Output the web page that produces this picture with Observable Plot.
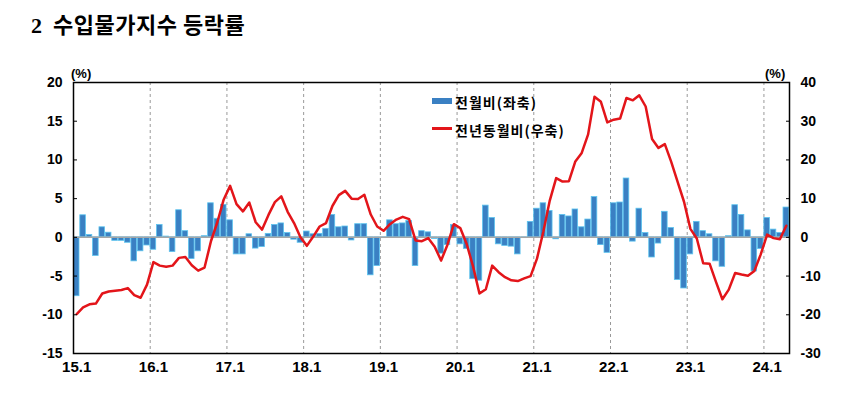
<!DOCTYPE html>
<html><head><meta charset="utf-8">
<script src="https://cdn.jsdelivr.net/npm/d3@7"></script>
<script src="https://cdn.jsdelivr.net/npm/@observablehq/plot@0.6"></script>
<style>
body{margin:0;background:#fff;}
#wrap{position:relative;width:852px;height:395px;overflow:hidden;}
.t{position:absolute;white-space:pre;color:#000;line-height:1;}
#chart{position:absolute;left:0;top:0;}
</style></head><body>
<div id="wrap">
<div id="chart"></div>
<div class="t" style="left:31px;top:12px;font-size:22px;font-weight:bold;font-family:'Liberation Serif','Noto Sans CJK KR';">2  <span style="font-family:'Noto Sans CJK KR';letter-spacing:0.5px">수입물가지수 등락률</span></div>
<div class="t" style="left:71px;top:66px;font:bold 13px 'Liberation Sans',Arial,sans-serif;">(%)</div>
<div class="t" style="left:765px;top:66px;font:bold 13px 'Liberation Sans',Arial,sans-serif;">(%)</div>
<div style="position:absolute;left:432px;top:98px;width:20px;height:6px;background:#3a80c3;"></div>
<div class="t" style="left:455px;top:92px;font:bold 14px 'Noto Sans CJK KR';letter-spacing:1px;">전월비(좌축)</div>
<div style="position:absolute;left:432px;top:127px;width:20px;height:2.5px;background:#e3151a;"></div>
<div class="t" style="left:455px;top:120px;font:bold 14px 'Noto Sans CJK KR';letter-spacing:1px;">전년동월비(우축)</div>
</div>
<script>
// 2015.1 ~ 2024.4, monthly
const mom = [
 -7.6, 2.85, 0.3, -2.4, 1.3, 0.6, -0.45, -0.45, -0.7, -3.1, -1.8, -1.05,
 -1.6, 1.6, 0.1, -1.9, 3.5, 0.8, -2.8, -1.8, 0.15, 4.4, 2.4, 4.2,
 2.2, -2.2, -2.2, 0.4, -1.45, -1.25, 0.45, 1.6, 1.8, 0.55, -0.3, -0.7,
 0.75, 0.4, 0.45, 1.1, 2.9, 1.3, 1.4, -0.4, 1.7, 1.7, -4.9, -3.7,
 -0.1, 2.2, 1.7, 1.8, 2.1, -3.7, 0.8, 0.65, -0.2, -2.1, -1.0, 1.6,
 -0.9, -1.5, -5.4, -5.6, 4.1, 2.5, -0.9, -1.1, -1.2, -2.2, -0.1, 2.0,
 3.7, 4.4, 3.4, -0.25, 2.9, 2.7, 3.6, 1.3, 2.3, 5.2, -1.0, -2.0,
 4.4, 4.5, 7.6, -0.55, 3.7, 0.55, -2.6, -0.8, 3.3, 1.2, -5.5, -6.6,
 -2.2, 2.0, 0.8, 0.4, -3.1, -3.8, 0.15, 4.15, 2.9, 0.9, -4.4, -1.5,
 2.5, 1.0, 0.55, 3.85
];
const yoy = [
 -19.8, -18.1, -17.3, -17.1, -14.5, -14.0, -13.8, -13.6, -13.1, -14.9, -15.6, -12.2,
 -6.4, -7.3, -7.6, -7.3, -5.3, -5.1, -7.2, -8.6, -7.8, -1.0, 3.9, 9.8,
 13.3, 8.6, 6.7, 9.0, 3.9, 2.0, 5.8, 9.1, 10.6, 6.6, 3.7, 0.0,
 -2.2, 0.2, 2.8, 3.7, 8.1, 10.9, 12.0, 10.0, 9.9, 11.0, 5.9, 2.8,
 1.7, 3.4, 4.6, 5.3, 4.7, -0.8, -1.0, -0.2, -2.4, -6.0, -1.9, 3.4,
 2.4, -1.7, -7.5, -14.5, -13.4, -7.3, -9.0, -10.3, -11.1, -11.3, -10.6, -10.0,
 -5.5, 1.5, 9.5, 15.3, 14.4, 14.5, 19.6, 21.8, 26.6, 36.3, 35.0, 29.7,
 30.4, 30.7, 36.0, 35.4, 36.7, 33.8, 25.4, 23.1, 24.1, 19.5, 14.3, 9.2,
 2.2, -0.3, -6.7, -6.8, -11.5, -16.0, -13.5, -9.2, -9.6, -9.9, -8.7, -4.4,
 0.7, -0.2, -0.5, 3.0
];
const yearTicks = ["15.1","16.1","17.1","18.1","19.1","20.1","21.1","22.1","23.1","24.1"];
const leftTicks = [-15, -10, -5, 0, 5, 10, 15, 20];

const n = mom.length;
const data = mom.map((v, i) => ({i, mom: v, yoy: yoy[i]}));
const yearStarts = yearTicks.map((_, k) => 12 * k);
const fmt = d => d < 0 ? "-" + Math.abs(d) : String(d);

const chart = Plot.plot({
  width: 852, height: 395,
  marginTop: 82, marginBottom: 42, marginLeft: 73, marginRight: 63,
  style: {fontFamily: "'Liberation Sans', Arial, sans-serif", fontSize: "14px", fontWeight: "bold", color: "#000", background: "transparent"},
  x: {domain: [0, n], label: null},
  y: {domain: [-15, 20], label: null},
  marks: [
    Plot.ruleX(yearStarts.slice(1), {stroke: "#999", strokeDasharray: "3,3", strokeWidth: 1}),
    Plot.rect(data, {x1: "i", x2: d => d.i + 1, y1: 0, y2: "mom", fill: "#3a80c3", stroke: "#5cc4ef", strokeWidth: 0.8, insetLeft: 0.4, insetRight: 0.4}),
    Plot.ruleY([0], {stroke: "#a6a6a6", strokeWidth: 1.5}),
    Plot.line(data, {x: d => d.i + 0.5, y: d => d.yoy / 2, stroke: "#e3151a", strokeWidth: 2.5}),
    Plot.frame({stroke: "#000", strokeWidth: 1.5}),
    Plot.axisY(leftTicks, {anchor: "left", tickSize: -4, tickPadding: 15, tickFormat: fmt, fontSize: 14, fontWeight: "bold"}),
    Plot.axisY(leftTicks, {anchor: "right", tickSize: -4, tickPadding: 15, tickFormat: d => fmt(d * 2), fontSize: 14, fontWeight: "bold"}),
    Plot.axisX(yearStarts.map(d => d + 0.5), {anchor: "bottom", tickSize: 0, tickPadding: 8, tickFormat: d => yearTicks[Math.round((d - 0.5) / 12)], fontSize: 15, fontWeight: "bold"})
  ]
});
document.getElementById("chart").appendChild(chart);
</script>
</body></html>
